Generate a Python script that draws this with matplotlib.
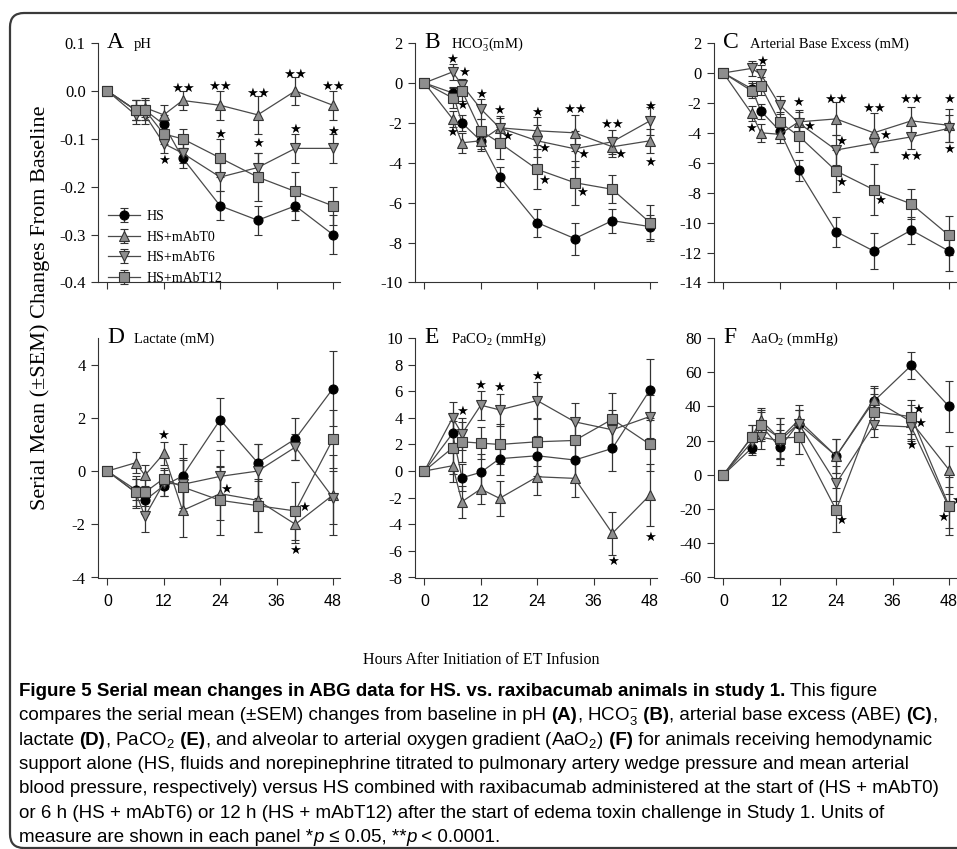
import numpy as np
import matplotlib
matplotlib.use("Agg")
import matplotlib.pyplot as plt
from matplotlib import font_manager
from matplotlib.patches import FancyBboxPatch
from matplotlib.transforms import IdentityTransform

plt.rcParams["font.family"] = ["Liberation Serif", "DejaVu Serif"]
plt.rcParams["mathtext.default"] = "regular"
plt.rcParams["axes.unicode_minus"] = False

W, H = 957, 849

hours = [0, 6, 8, 12, 16, 24, 32, 40, 48]
groups = ["HS", "HS+mAbT0", "HS+mAbT6", "HS+mAbT12"]
x_ticks = [0, 12, 24, 36, 48]

# A  pH
ph_hs = [0, -0.04, -0.04, -0.07, -0.14, -0.24, -0.27, -0.24, -0.30]
ph_t0 = [0, -0.04, -0.035, -0.05, -0.02, -0.03, -0.05, 0.0, -0.03]
ph_t6 = [0, -0.05, -0.05, -0.11, -0.13, -0.18, -0.16, -0.12, -0.12]
ph_t12 = [0, -0.04, -0.04, -0.09, -0.10, -0.14, -0.18, -0.21, -0.24]
ph_hs_err = [0, 0.02, 0.02, 0.02, 0.02, 0.03, 0.03, 0.03, 0.04]
ph_t0_err = [0, 0.02, 0.02, 0.02, 0.02, 0.03, 0.04, 0.03, 0.03]
ph_t6_err = [0, 0.02, 0.02, 0.02, 0.02, 0.03, 0.03, 0.03, 0.03]
ph_t12_err = [0, 0.02, 0.02, 0.02, 0.02, 0.04, 0.05, 0.04, 0.04]
ph_stars = [(12, -0.145, "★"), (16, 0.005, "★★"), (24, 0.01, "★★"), (24, -0.09, "★"),
            (32, -0.005, "★★"), (32, -0.11, "★"), (40, 0.035, "★★"), (40, -0.08, "★"),
            (48, 0.01, "★★"), (48, -0.085, "★")]

# B  HCO3
hco3_hs = [0, -0.5, -2.0, -2.9, -4.7, -7.0, -7.8, -6.9, -7.2]
hco3_t0 = [0, -1.8, -3.0, -2.9, -2.25, -2.4, -2.5, -3.2, -2.9]
hco3_t6 = [0, 0.55, -0.1, -1.3, -2.25, -2.9, -3.3, -2.95, -1.9]
hco3_t12 = [0, -0.75, -0.4, -2.4, -3.0, -4.33, -5.0, -5.33, -7.0]
hco3_hs_err = [0, 0.3, 0.4, 0.5, 0.5, 0.7, 0.8, 0.6, 0.6]
hco3_t0_err = [0, 0.4, 0.5, 0.4, 0.6, 0.7, 0.9, 0.5, 0.6]
hco3_t6_err = [0, 0.4, 0.3, 0.5, 0.5, 0.8, 0.9, 0.6, 0.7]
hco3_t12_err = [0, 0.5, 0.5, 0.6, 0.8, 1.0, 1.1, 0.7, 0.9]
hco3_stars = [(6, 1.2, "★"), (6, -2.5, "★"), (8.5, 0.5, "★"), (8, -1.15, "★"),
              (12, -0.6, "★"), (16, -1.4, "★"), (17.7, -2.7, "★"), (24, -1.5, "★"),
              (25.5, -3.3, "★"), (25.5, -4.9, "★"), (32, -1.35, "★★"), (33.7, -3.6, "★"),
              (33.5, -5.5, "★"), (40, -2.1, "★★"), (41.7, -3.6, "★"), (48, -1.2, "★"),
              (48, -4.0, "★")]

# C  arterial base excess
abe_hs = [0, -1.05, -2.55, -3.87, -6.5, -10.6, -11.9, -10.5, -11.9]
abe_t0 = [0, -2.7, -4.0, -4.1, -3.27, -3.07, -4.0, -3.2, -3.5]
abe_t6 = [0, 0.3, -0.1, -2.15, -3.33, -5.15, -4.7, -4.27, -3.7]
abe_t12 = [0, -1.2, -0.9, -3.3, -4.2, -6.55, -7.8, -8.75, -10.85]
abe_hs_err = [0, 0.5, 0.5, 0.5, 0.7, 1.0, 1.2, 0.9, 1.3]
abe_t0_err = [0, 0.5, 0.6, 0.6, 0.8, 1.1, 1.3, 0.9, 1.1]
abe_t6_err = [0, 0.5, 0.6, 0.6, 0.7, 1.0, 0.6, 0.8, 0.9]
abe_t12_err = [0, 0.5, 0.6, 0.7, 1.1, 1.4, 1.7, 1.0, 1.3]
abe_stars = [(5.8, -3.7, "★"), (8.2, 0.8, "★"), (15.9, -2.0, "★"), (18.3, -3.55, "★"),
             (24, -1.75, "★★"), (25, -4.6, "★"), (25, -7.3, "★"), (32, -2.4, "★★"),
             (34.5, -4.15, "★"), (33.4, -8.5, "★"), (40, -1.8, "★★"), (40, -5.6, "★★"),
             (48, -1.8, "★"), (48, -5.1, "★")]

# D  lactate
lac_hs = [0, -0.7, -1.1, -0.55, -0.19, 1.93, 0.31, 1.21, 3.1]
lac_t0 = [0, 0.31, -0.16, 0.66, -1.48, -0.85, -1.1, -2.0, -0.9]
lac_t6 = [0, -0.8, -1.7, -0.45, -0.5, -0.2, 0.0, 0.9, -1.0]
lac_t12 = [0, -0.8, -0.8, -0.28, -0.6, -1.1, -1.3, -1.5, 1.2]
lac_hs_err = [0, 0.4, 0.5, 0.4, 1.2, 0.8, 0.7, 0.8, 1.4]
lac_t0_err = [0, 0.4, 0.4, 0.45, 1.0, 1.0, 1.2, 0.7, 1.5]
lac_t6_err = [0, 0.6, 0.6, 0.5, 1.0, 1.0, 1.0, 0.5, 1.0]
lac_t12_err = [0, 0.5, 0.5, 0.4, 1.0, 1.3, 1.0, 1.1, 1.1]
lac_stars = [(11.8, 1.35, "★"), (25.2, -0.7, "★"), (41.8, -1.35, "★"), (39.9, -3.0, "★")]

# E  PaCO2
pco2_hs = [0, 2.83, -0.5, -0.1, 0.93, 1.15, 0.83, 1.7, 6.1]
pco2_t0 = [0, 0.4, -2.3, -1.35, -2.05, -0.43, -0.55, -4.68, -1.8]
pco2_t6 = [0, 4.0, 2.8, 4.95, 4.6, 5.3, 3.7, 3.1, 4.1]
pco2_t12 = [0, 1.75, 2.2, 2.1, 2.0, 2.2, 2.3, 3.9, 2.0]
pco2_hs_err = [0, 1.5, 1.0, 1.4, 1.2, 1.5, 1.5, 1.7, 2.3]
pco2_t0_err = [0, 1.2, 1.2, 1.1, 1.3, 1.4, 1.4, 1.6, 2.3]
pco2_t6_err = [0, 1.2, 1.2, 1.1, 1.2, 1.4, 1.4, 1.5, 1.6]
pco2_t12_err = [0, 2.0, 1.5, 1.2, 1.5, 1.8, 1.5, 2.0, 2.0]
pco2_stars = [(8, 4.45, "★"), (11.9, 6.4, "★"), (16, 6.25, "★"), (24, 7.1, "★"),
              (40.2, -6.8, "★"), (48, -5.0, "★")]

# F  AaO2
aao2_hs = [0, 15.6, 29, 16, 30, 11, 43, 64, 40]
aao2_t0 = [0, 22, 32, 21, 32, 11, 44, 31, 3]
aao2_t6 = [0, 19, 22, 20, 30, -5, 29, 28, -19]
aao2_t12 = [0, 22, 29, 21.5, 22, -20.5, 37, 34, -18]
aao2_hs_err = [0, 4, 9, 10, 8, 10, 8, 8, 15]
aao2_t0_err = [0, 7, 7, 12, 9, 10, 8, 10, 14]
aao2_t6_err = [0, 6, 7, 10, 8, 10, 7, 8, 12]
aao2_t12_err = [0, 7, 8, 12, 10, 13, 10, 10, 17]
aao2_stars = [(25, -26.4, "★"), (41.4, 38.5, "★"), (41.8, 30.3, "★"), (40, 17, "★"),
              (46.7, -24.6, "★"), (49.7, -15.2, "★")]

panels = [
    ("A", "pH", [ph_hs, ph_t0, ph_t6, ph_t12],
     [ph_hs_err, ph_t0_err, ph_t6_err, ph_t12_err], ph_stars,
     [-0.4, -0.3, -0.2, -0.1, 0.0, 0.1],
     ["-0.4", "-0.3", "-0.2", "-0.1", "0.0", "0.1"], (-0.4, 0.1)),
    ("B", "HCO$_3^{-}$(mM)", [hco3_hs, hco3_t0, hco3_t6, hco3_t12],
     [hco3_hs_err, hco3_t0_err, hco3_t6_err, hco3_t12_err], hco3_stars,
     [-10, -8, -6, -4, -2, 0, 2], None, (-10, 2)),
    ("C", "Arterial Base Excess (mM)", [abe_hs, abe_t0, abe_t6, abe_t12],
     [abe_hs_err, abe_t0_err, abe_t6_err, abe_t12_err], abe_stars,
     [-14, -12, -10, -8, -6, -4, -2, 0, 2], None, (-14, 2)),
    ("D", "Lactate (mM)", [lac_hs, lac_t0, lac_t6, lac_t12],
     [lac_hs_err, lac_t0_err, lac_t6_err, lac_t12_err], lac_stars,
     [-4, -2, 0, 2, 4], None, (-4, 5)),
    ("E", "PaCO$_2$ (mmHg)", [pco2_hs, pco2_t0, pco2_t6, pco2_t12],
     [pco2_hs_err, pco2_t0_err, pco2_t6_err, pco2_t12_err], pco2_stars,
     [-8, -6, -4, -2, 0, 2, 4, 6, 8, 10], None, (-8, 10)),
    ("F", "AaO$_2$ (mmHg)", [aao2_hs, aao2_t0, aao2_t6, aao2_t12],
     [aao2_hs_err, aao2_t0_err, aao2_t6_err, aao2_t12_err], aao2_stars,
     [-60, -40, -20, 0, 20, 40, 60, 80], None, (-60, 80)),
]

markers = ["o", "^", "v", "s"]
faces = ["black", "#8e8e8e", "#8e8e8e", "#8e8e8e"]

fig = plt.figure(figsize=(W / 100, H / 100), dpi=100)

col_left = [97.5, 414.5, 713.5]
row_top = [43, 338]
ax_w, ax_h = 242.5, 239.5


def draw_panel(ax, letter, title, means, errs, stars, yticks, ylabels, ylim, bottom_row):
    for i in range(4):
        ax.errorbar(hours, means[i], yerr=errs[i], color="#4a4a4a", lw=0.9,
                    ecolor="#333333", elinewidth=0.9, capsize=3, capthick=0.9,
                    marker=markers[i], ms=7 if i else 6.5, mfc=faces[i],
                    mec="#333333" if i else "black", mew=0.8, label=groups[i])
    for x, y, s in stars:
        ax.text(x, y, s, ha="center", va="center", fontsize=9.5,
                family=["DejaVu Sans"], clip_on=False)
    ax.set_xlim(-2.1, 49.5)
    ax.set_ylim(*ylim)
    ax.set_yticks(yticks)
    if ylabels:
        ax.set_yticklabels(ylabels)
    ax.set_xticks(x_ticks)
    for s in ["top", "right"]:
        ax.spines[s].set_visible(False)
    for s in ["left", "bottom"]:
        ax.spines[s].set_color("#333333")
    ax.tick_params(direction="out", length=5, color="#333333", labelsize=12)
    if bottom_row:
        ax.tick_params(axis="x", pad=7)
        for lab in ax.get_xticklabels():
            lab.set_family(["Liberation Sans", "DejaVu Sans"])
            lab.set_fontsize(11.5)
    else:
        ax.tick_params(axis="x", labelbottom=False)
    ax.text(0.04, 1.0, letter, transform=ax.transAxes, fontsize=17, va="center", ha="left")
    ax.text(0.15, 0.995, title, transform=ax.transAxes, fontsize=10.5, va="center", ha="left")


for k, (letter, title, means, errs, stars, yticks, ylabels, ylim) in enumerate(panels):
    r, c = divmod(k, 3)
    left = col_left[c] / W
    bottom = 1 - (row_top[r] + ax_h) / H
    ax = fig.add_axes([left, bottom, ax_w / W, ax_h / H])
    draw_panel(ax, letter, title, means, errs, stars, yticks, ylabels, ylim, r == 1)
    if k == 0:
        ax.legend(loc="lower left", bbox_to_anchor=(0.01, -0.045), frameon=False,
                  fontsize=10, handlelength=2.3, handletextpad=0.45,
                  labelspacing=0.55, borderaxespad=0.2)

fig.text(40 / W, 1 - 308 / H, "Serial Mean (±SEM) Changes From Baseline", rotation=90,
         ha="center", va="center", fontsize=16)
fig.text(481 / W, 1 - 660 / H, "Hours After Initiation of ET Infusion", ha="center",
         va="center", fontsize=11.5)

# caption
names = {f.name for f in font_manager.fontManager.ttflist}
if "Liberation Sans Narrow" in names:
    cap_family = ["Liberation Sans Narrow", "DejaVu Sans"]
else:
    cap_family = ["Liberation Sans", "DejaVu Sans"]

caption = [
    [("Figure 5 Serial mean changes in ABG data for HS. vs. raxibacumab animals in study 1.", "b"),
     (" This figure", "r")],
    [("compares the serial mean (±SEM) changes from baseline in pH ", "r"), ("(A)", "b"),
     (", HCO$_3^{-}$", "r"), (" (B)", "b"), (", arterial base excess (ABE) ", "r"),
     ("(C)", "b"), (",", "r")],
    [("lactate ", "r"), ("(D)", "b"), (", PaCO$_2$", "r"), (" (E)", "b"),
     (", and alveolar to arterial oxygen gradient (AaO$_2$)", "r"), (" (F)", "b"),
     (" for animals receiving hemodynamic", "r")],
    [("support alone (HS, fluids and norepinephrine titrated to pulmonary artery wedge pressure and mean arterial", "r")],
    [("blood pressure, respectively) versus HS combined with raxibacumab administered at the start of (HS + mAbT0)", "r")],
    [("or 6 h (HS + mAbT6) or 12 h (HS + mAbT12) after the start of edema toxin challenge in Study 1. Units of", "r")],
    [("measure are shown in each panel *", "r"), ("p", "i"), (" ≤ 0.05, **", "r"), ("p", "i"),
     (" < 0.0001.", "r")],
]

renderer = fig.canvas.get_renderer()


def draw_runs(x, y, runs, size):
    made = []
    for txt, st in runs:
        t = fig.text(x, y, txt, transform=IdentityTransform(), fontsize=size,
                     family=cap_family, weight="bold" if st == "b" else "normal",
                     style="italic" if st == "i" else "normal", ha="left", va="baseline")
        made.append(t)
        x = t.get_window_extent(renderer).x1
    return x, made


# size the caption so its widest line fits the frame
widest = 0
for runs in caption:
    end, made = draw_runs(0, -200, runs, 12)
    widest = max(widest, end)
    for t in made:
        t.remove()
cap_size = 12 * (945 - 19) / widest

for i, runs in enumerate(caption):
    draw_runs(19, H - (696 + 24.3 * i), runs, cap_size)

frame = FancyBboxPatch((10, 1), 1000, 835, boxstyle="round,pad=0,rounding_size=14",
                       transform=IdentityTransform(), fill=False, lw=1.6, ec="#3a3a3a")
fig.add_artist(frame)

fig.savefig("out.png", dpi=100)
